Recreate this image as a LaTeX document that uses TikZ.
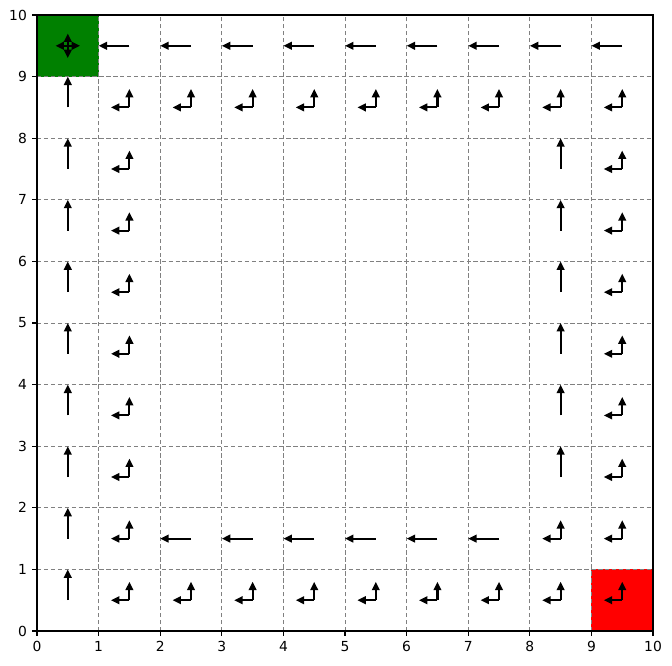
\documentclass[tikz,border=0pt]{standalone}
\usepackage{fontspec}
\setmainfont{DejaVu Sans}
\usetikzlibrary{arrows.meta}

\begin{document}
\begin{tikzpicture}[
  gridline/.style={gray, dash pattern=on 2pt off 1.2pt, line width=0.4pt},
  act/.style={-{Triangle[length=3.9pt,width=3.5pt]}, line width=1pt},
  ticklabel/.style={inner sep=0pt, font=\fontsize{6.4}{7.7}\selectfont}]
\useasboundingbox (-0.6006,-0.552) rectangle (10.308,10.2435);

% start and goal cells
\fill[green!50!black] (0,9) rectangle (1,10);
\fill[red] (9,0) rectangle (10,1);

\foreach \i in {1,...,9} {
  \draw[gridline] (\i,0) -- (\i,10);
  \draw[gridline] (0,\i) -- (10,\i);
}

% ticks
\foreach \i in {0,...,10} {
  \draw[line width=0.5pt] (\i,0) -- (\i,-0.079);
  \node[ticklabel, anchor=north] (xl\i) at (\i,-0.158) {\i};
  \draw[line width=0.5pt] (0,\i) -- (-0.079,\i);
  \node[ticklabel, anchor=east] (yl\i) at (-0.158,\i) {\i};
}

% all four moves
\draw[act] (0.5,9.5) -- (0.3,9.5);
\draw[act] (0.5,9.5) -- (0.7,9.5);
\draw[act] (0.5,9.5) -- (0.5,9.7);
\draw[act] (0.5,9.5) -- (0.5,9.3);

% single moves
\foreach \c in {1,...,9}
  \draw[act] (\c+0.5,9.5) -- (\c,9.5);
\foreach \c in {2,...,7}
  \draw[act] (\c+0.5,1.5) -- (\c,1.5);
\foreach \r in {0,...,8}
  \draw[act] (0.5,\r+0.5) -- (0.5,\r+1);
\foreach \r in {2,...,7}
  \draw[act] (8.5,\r+0.5) -- (8.5,\r+1);

% left or up
\foreach \c/\r in {1/0,1/1,1/2,1/3,1/4,1/5,1/6,1/7,1/8,
                   2/0,3/0,4/0,5/0,6/0,7/0,8/0,9/0,
                   2/8,3/8,4/8,5/8,6/8,7/8,8/8,9/8,
                   9/1,9/2,9/3,9/4,9/5,9/6,9/7,8/1} {
  \draw[act] (\c+0.5,\r+0.5) -- (\c+0.2,\r+0.5);
  \draw[act] (\c+0.5,\r+0.5) -- (\c+0.5,\r+0.8);
}

\draw[line width=0.5pt] (0,0) rectangle (10,10);
\end{tikzpicture}
\end{document}
